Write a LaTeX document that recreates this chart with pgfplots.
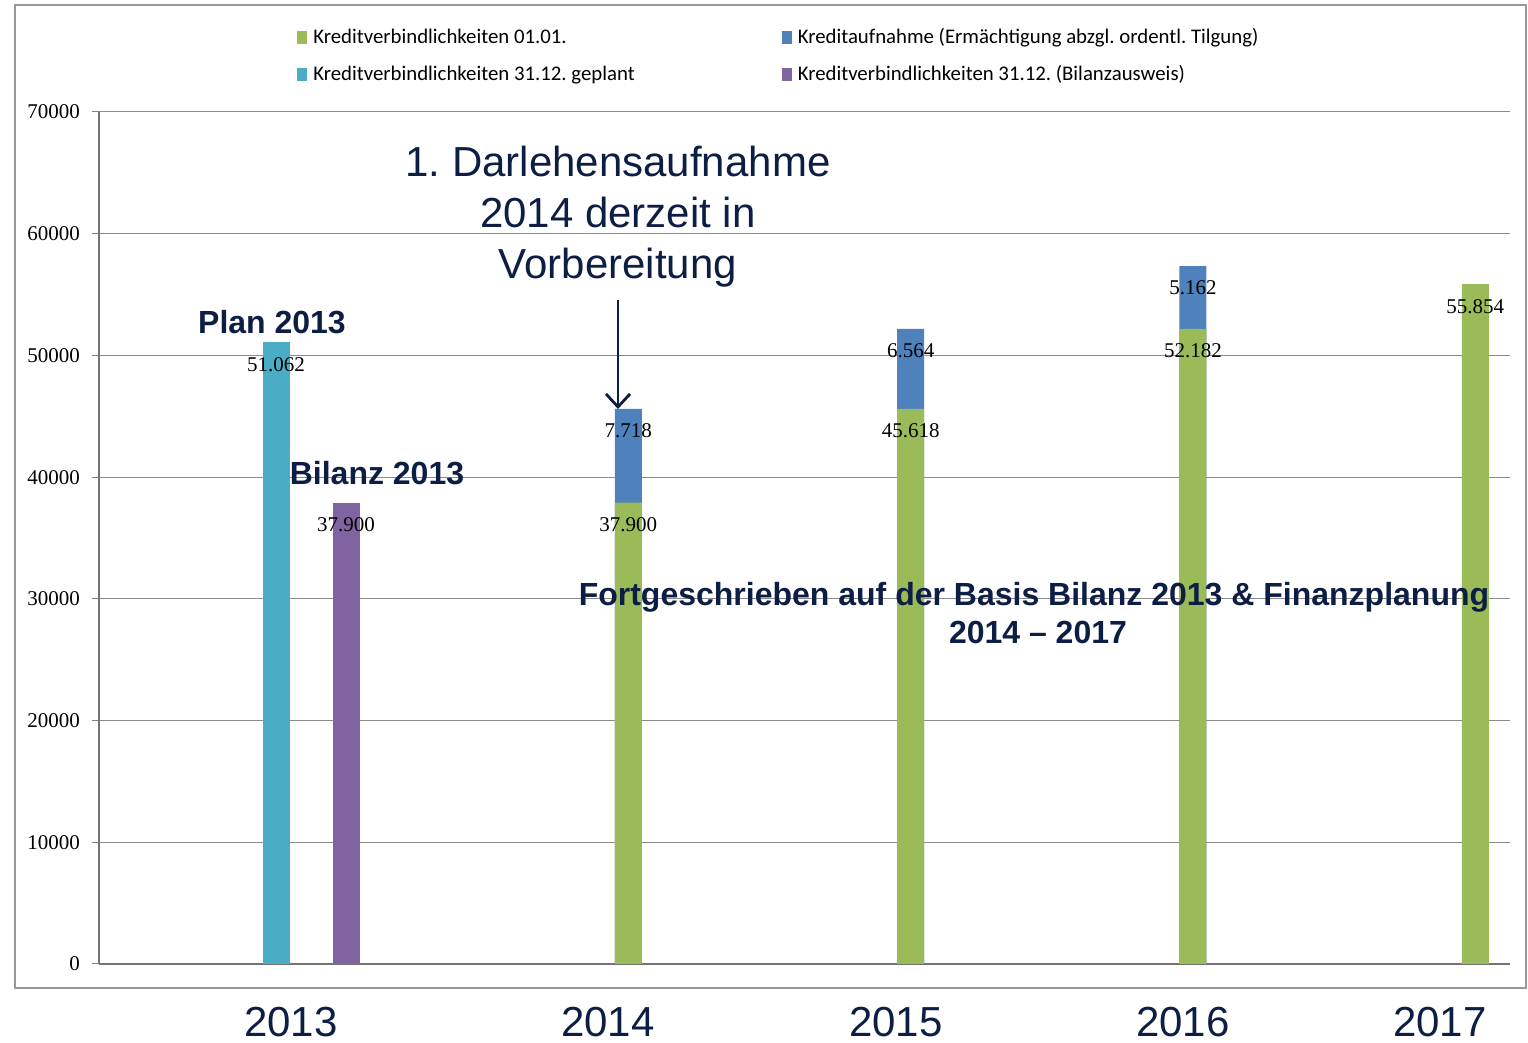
\documentclass[border=0pt]{standalone}
\usepackage{pgfplots}
\pgfplotsset{compat=1.18}
\usepackage{pgfplotstable}
\usepackage{fontspec}
\setmainfont{Liberation Serif}
\newfontfamily\arialfont{Liberation Sans}
\newfontfamily\calibrifont{Carlito}
\usetikzlibrary{arrows.meta}
\frenchspacing
\definecolor{cgreen}{RGB}{155,187,89}
\definecolor{cblue}{RGB}{79,129,189}
\definecolor{ccyan}{RGB}{75,172,198}
\definecolor{cpurple}{RGB}{128,100,162}
\definecolor{navy}{RGB}{12,30,68}

% Kreditverbindlichkeiten 01.01.
\pgfplotstableread{
x y label
1 37900 37.900
2 45618 45.618
3 52182 52.182
4 55854 55.854
}\greentable
% Kreditaufnahme: top of bar = 01.01. + Kreditaufnahme, label = Kreditaufnahme
\pgfplotstableread{
x y label
1 45618 7.718
2 52182 6.564
3 57344 5.162
}\bluetable
% Kreditverbindlichkeiten 31.12. geplant
\pgfplotstableread{
x y label
-0.248 51062 51.062
}\cyantable
% Kreditverbindlichkeiten 31.12. (Bilanzausweis)
\pgfplotstableread{
x y label
0 37900 37.900
}\purpletable

\begin{document}
\begin{tikzpicture}
\begin{scope}[x=0.5pt, y=-0.5pt, shift={(-49.5pt,482pt)}]
\useasboundingbox (0,0) rectangle (1528,1043);
\end{scope}
\begin{axis}[
  at={(0,0)}, anchor=south west,
  scale only axis, width=705.5pt, height=426pt,
  xmin=-0.875, xmax=4.123, ymin=0, ymax=70000,
  ybar, bar shift=0pt, bar width=13.5pt,
  axis lines*=left,
  xtick=\empty,
  ytick={0,10000,...,70000},
  scaled y ticks=false,
  /pgf/number format/1000 sep={},
  /pgf/number format/assume math mode=true,
  yticklabel style={font=\fontsize{10.5}{12}\selectfont, xshift=-2.5pt},
  ymajorgrids,
  major grid style={color=black!45, line width=0.5pt},
  tick align=outside, major tick length=3.5pt,
  tick style={black!50, line width=0.5pt},
  axis line style={black!55, line width=0.6pt},
  nodes near coords,
  point meta=explicit symbolic,
  every node near coord/.append style={anchor=center, yshift=-11pt, font=\fontsize{10.5}{12}\selectfont, text=black},
  legend columns=2,
  legend cell align=left,
  legend image code/.code={\fill[#1] (0pt,-3.25pt) rectangle (5pt,3.25pt);},
  legend style={at={(0.1403,1.1001)}, anchor=north west, draw=none, fill=none,
    inner sep=0pt, font=\calibrifont\fontsize{10.4}{12}\selectfont, row sep=8pt,
    /tikz/every even column/.append style={column sep=73.5pt},
    /tikz/every odd column/.append style={column sep=3pt},
    nodes={inner sep=0pt, text height=8pt, text depth=2.5pt}},
]
\addlegendimage{fill=cgreen, draw=none}
\addlegendentry{Kreditverbindlichkeiten 01.01.}
\addlegendimage{fill=cblue, draw=none}
\addlegendentry{Kreditaufnahme (Ermächtigung abzgl. ordentl. Tilgung)}
\addlegendimage{fill=ccyan, draw=none}
\addlegendentry{Kreditverbindlichkeiten 31.12. geplant}
\addlegendimage{fill=cpurple, draw=none}
\addlegendentry{Kreditverbindlichkeiten 31.12. (Bilanzausweis)}
\addplot[fill=cblue, draw=none, forget plot] table[x=x, y=y, meta=label] {\bluetable};
\addplot[fill=cgreen, draw=none, forget plot] table[x=x, y=y, meta=label] {\greentable};
\addplot[fill=ccyan, draw=none, forget plot] table[x=x, y=y, meta=label] {\cyantable};
\addplot[fill=cpurple, draw=none, forget plot] table[x=x, y=y, meta=label] {\purpletable};
\end{axis}
\begin{scope}[x=0.5pt, y=-0.5pt, shift={(-49.5pt,482pt)}]
\draw[black!40, line width=1pt] (15,5) rectangle (1526,988);
\tikzset{bl/.style={navy, anchor=base, inner sep=0pt, font=\arialfont\bfseries\fontsize{16}{19}\selectfont}}
\tikzset{big/.style={navy, anchor=base, inner sep=0pt, font=\arialfont\fontsize{21}{25}\selectfont}}
\node[bl] at (272,334) {Plan 2013};
\node[bl] at (377,485) {Bilanz 2013};
\node[bl] at (1034,606) {Fortgeschrieben auf der Basis Bilanz 2013 \& Finanzplanung};
\node[bl] at (1038,644) {2014 – 2017};
\node[big] at (618,177) {1. Darlehensaufnahme};
\node[big] at (618,228) {2014 derzeit in};
\node[big] at (618,279) {Vorbereitung};
\draw[navy, line width=1.4pt, -{Straight Barb[length=6.5pt,width=12pt,line width=1.4pt]}] (618,300) -- (618,409);
\node[big] at (291,1037) {2013};
\node[big] at (608,1037) {2014};
\node[big] at (896,1037) {2015};
\node[big] at (1183,1037) {2016};
\node[big] at (1440,1037) {2017};
\end{scope}
\end{tikzpicture}
\end{document}
